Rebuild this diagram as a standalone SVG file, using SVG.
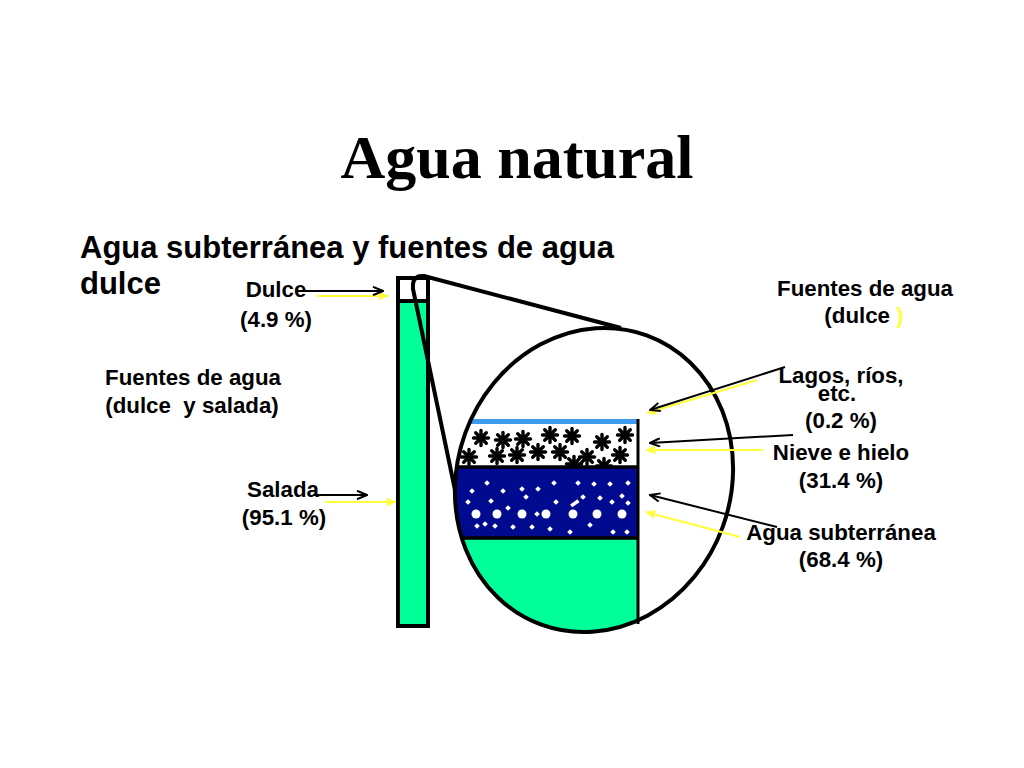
<svg xmlns="http://www.w3.org/2000/svg" width="1024" height="768" viewBox="0 0 1024 768">
<style>
.lbl{font-family:"Liberation Sans",Arial,sans-serif;font-weight:bold;font-size:22.3px;text-anchor:middle;fill:#000}
.sub{font-family:"Liberation Sans",Arial,sans-serif;font-weight:bold;font-size:31px;fill:#000}
.title{font-family:"Liberation Serif","Times New Roman",serif;font-weight:bold;font-size:62px;text-anchor:middle;fill:#000}
.ol{fill:none;stroke:#000;stroke-width:4}
.blk{stroke:#000;stroke-width:2;fill:none}
.yel{stroke:#FFFF3A;stroke-width:2;fill:none}
.dot{fill:#fff}
</style>
<defs>
<marker id="ab" viewBox="0 0 12 10" refX="11" refY="5" markerWidth="12" markerHeight="10" markerUnits="userSpaceOnUse" orient="auto"><path d="M1,0.8 L11,5 L1,9.2" fill="none" stroke="#000" stroke-width="2"/></marker>
<marker id="ay" viewBox="0 0 8 8" refX="8" refY="4" markerWidth="9" markerHeight="9" markerUnits="userSpaceOnUse" orient="auto"><path d="M0,0 L8,4 L0,8 z" fill="#FFFF3A"/></marker>
<g id="ast" stroke="#000" stroke-width="3.4" stroke-linecap="round"><line x1="-7.5" y1="0" x2="7.5" y2="0"/><line x1="0" y1="-7.5" x2="0" y2="7.5"/><line x1="-5.3" y1="-5.3" x2="5.3" y2="5.3"/><line x1="-5.3" y1="5.3" x2="5.3" y2="-5.3"/><circle r="3.5" fill="#000" stroke="none"/></g>
<rect id="dm" x="-2" y="-2" width="4" height="4" transform="rotate(45)"/>
<clipPath id="circ"><ellipse cx="594" cy="480" rx="137" ry="154" transform="rotate(20 594 480)"/></clipPath>
<clipPath id="snowclip"><rect x="440" y="424" width="198" height="43"/></clipPath>
</defs>
<rect width="1024" height="768" fill="#fff"/>

<text class="title" x="517" y="178">Agua natural</text>
<text class="sub" x="80" y="258">Agua subterránea y fuentes de agua</text>
<text class="sub" x="80" y="294">dulce</text>

<g id="column">
<rect x="398" y="278" width="30" height="348" fill="#00FF99" stroke="#000" stroke-width="4"/>
<rect x="400" y="280" width="26" height="21" fill="#fff"/>
<line x1="398" y1="301" x2="428" y2="301" stroke="#000" stroke-width="4"/>
</g>

<g id="magnifier">
<g clip-path="url(#circ)">
<rect x="440" y="538" width="198" height="110" fill="#00FF99"/>
<rect x="440" y="467" width="198" height="71" fill="#000A8F"/>
<rect x="440" y="419" width="198" height="5" fill="#3D9BF0"/>
<g clip-path="url(#snowclip)">
<use href="#ast" x="481" y="438"/><use href="#ast" x="503" y="440"/><use href="#ast" x="523" y="439"/><use href="#ast" x="550" y="435"/><use href="#ast" x="572" y="436"/><use href="#ast" x="602" y="442"/><use href="#ast" x="625" y="435"/>
<use href="#ast" x="469" y="457"/><use href="#ast" x="497" y="456"/><use href="#ast" x="517" y="455"/><use href="#ast" x="538" y="452"/><use href="#ast" x="560" y="452"/><use href="#ast" x="574" y="464"/><use href="#ast" x="587" y="457"/><use href="#ast" x="604" y="466"/><use href="#ast" x="620" y="455"/>
</g>
<g class="dot">
<circle cx="476" cy="514" r="4.5"/><circle cx="497" cy="514" r="4.5"/><circle cx="522" cy="514" r="4.5"/><circle cx="546" cy="514" r="4.5"/><circle cx="573" cy="514" r="4.5"/><circle cx="597" cy="514" r="4.5"/><circle cx="622" cy="514" r="4.5"/>
<use href="#dm" x="487" y="483"/><use href="#dm" x="554" y="483"/><use href="#dm" x="578" y="483"/><use href="#dm" x="594" y="484"/><use href="#dm" x="610" y="484"/><use href="#dm" x="628" y="483"/>
<use href="#dm" x="472" y="491"/><use href="#dm" x="503" y="491"/><use href="#dm" x="522" y="489"/><use href="#dm" x="538" y="489"/>
<use href="#dm" x="526" y="497"/><use href="#dm" x="583" y="497"/><use href="#dm" x="600" y="498"/><use href="#dm" x="622" y="496"/>
<use href="#dm" x="468" y="502"/><use href="#dm" x="491" y="501"/><use href="#dm" x="556" y="502"/><use href="#dm" x="612" y="502"/><use href="#dm" x="628" y="503"/>
<use href="#dm" x="508" y="508"/><use href="#dm" x="537" y="514"/>
<rect x="570" y="502" width="9" height="3.5" transform="rotate(-35 574 503)"/>
<use href="#dm" x="477" y="526"/><use href="#dm" x="485" y="524"/><use href="#dm" x="495" y="526"/><use href="#dm" x="513" y="527"/><use href="#dm" x="532" y="527"/><use href="#dm" x="550" y="529"/><use href="#dm" x="590" y="525"/>
<use href="#dm" x="570" y="532"/><use href="#dm" x="613" y="532"/><use href="#dm" x="627" y="532"/>
</g>
<line x1="440" y1="467" x2="638" y2="467" stroke="#000" stroke-width="3.5"/>
<line x1="440" y1="538" x2="638" y2="538" stroke="#000" stroke-width="3.5"/>
</g>
<line x1="638" y1="419" x2="638" y2="624" stroke="#000" stroke-width="3"/>
<ellipse class="ol" cx="594" cy="480" rx="137" ry="154" transform="rotate(20 594 480)"/>
<path class="ol" d="M455 490 L413 289 L413 284 Q414 275 424 276 L621 328" stroke-linejoin="round"/>
</g>

<g id="labels">
<text class="lbl" x="276" y="297">Dulce</text>
<text class="lbl" x="276" y="327">(4.9 %)</text>
<text class="lbl" x="193" y="385">Fuentes de agua</text>
<text class="lbl" x="192" y="413" xml:space="preserve">(dulce  y salada)</text>
<text class="lbl" x="283" y="497">Salada</text>
<text class="lbl" x="284" y="525">(95.1 %)</text>
<text class="lbl" x="865" y="296">Fuentes de agua</text>
<text class="lbl" x="864" y="323" xml:space="preserve">(dulce <tspan fill="#FFFF3A">)</tspan></text>
<text class="lbl" x="841" y="383">Lagos, ríos,</text>
<text class="lbl" x="837" y="401">etc.</text>
<text class="lbl" x="841" y="428">(0.2 %)</text>
<text class="lbl" x="841" y="460">Nieve e hielo</text>
<text class="lbl" x="841" y="488">(31.4 %)</text>
<text class="lbl" x="841" y="540">Agua subterránea</text>
<text class="lbl" x="841" y="567">(68.4 %)</text>
</g>

<g id="connectors">
<line class="yel" x1="317" y1="296" x2="388" y2="296" marker-end="url(#ay)"/>
<line class="blk" x1="296" y1="291" x2="383" y2="291" marker-end="url(#ab)"/>
<line class="yel" x1="325" y1="502" x2="396" y2="502" marker-end="url(#ay)"/>
<line class="blk" x1="313" y1="495" x2="367" y2="495" marker-end="url(#ab)"/>
<line class="yel" x1="757" y1="380" x2="647" y2="413" marker-end="url(#ay)"/>
<line class="blk" x1="785" y1="367" x2="650" y2="410" marker-end="url(#ab)"/>
<line class="yel" x1="763" y1="450" x2="646" y2="450" marker-end="url(#ay)"/>
<line class="blk" x1="793" y1="435" x2="650" y2="443" marker-end="url(#ab)"/>
<line class="yel" x1="740" y1="537" x2="646" y2="512" marker-end="url(#ay)"/>
<line class="blk" x1="777" y1="527" x2="650" y2="495" marker-end="url(#ab)"/>
</g>
</svg>
